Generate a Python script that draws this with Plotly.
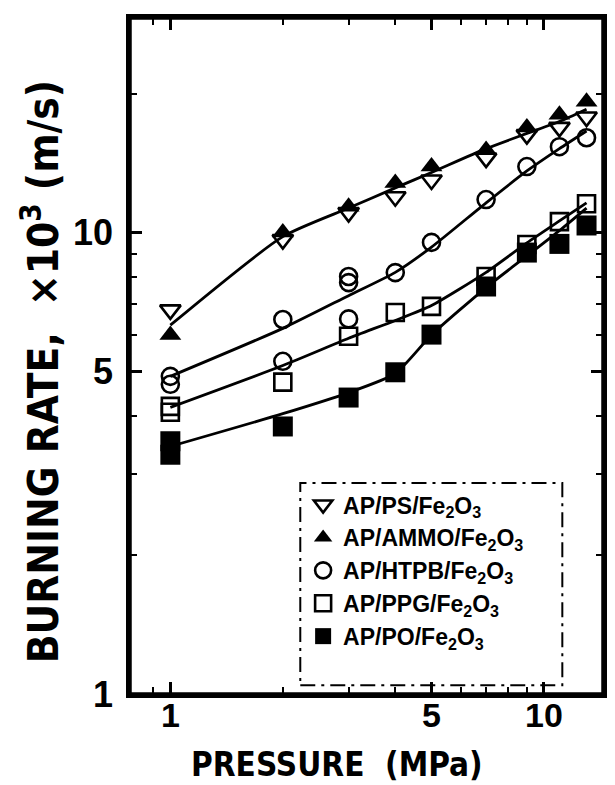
import plotly.graph_objects as go

# ---------------- data ----------------
ps_p = [1, 2, 3, 4, 5, 7, 9, 11, 13]
ps_r = [6.8, 9.66, 11.05, 11.96, 13.0, 14.5, 16.3, 16.9, 17.8]

ammo_p = [1, 2, 3, 4, 5, 7, 9, 11, 13]
ammo_r = [6.0, 10.0, 11.38, 12.8, 13.9, 15.1, 16.9, 18.0, 19.2]

htpb_p = [1, 1, 2, 2, 3, 3, 3, 4, 5, 7, 9, 11, 13]
htpb_r = [4.88, 4.69, 6.48, 5.26, 8.03, 7.79, 6.5, 8.19, 9.52, 11.79, 13.9, 15.35, 16.05]

ppg_p = [1, 1, 2, 3, 4, 5, 7, 9, 11, 13]
ppg_r = [4.2, 4.08, 4.74, 5.96, 6.71, 6.92, 8.03, 9.42, 10.56, 11.55]

po_p = [1, 1, 2, 3, 4, 5, 7, 9, 11, 13]
po_r = [3.53, 3.30, 3.80, 4.39, 4.98, 6.01, 7.64, 9.05, 9.45, 10.36]

# fitted curves drawn through the data
fit_p = [1, 2, 3, 4, 5, 7, 9, 11, 13]
fit_ps_ammo_r = [6.3, 9.8, 11.3, 12.5, 13.5, 15.2, 16.4, 17.4, 18.5]
fit_htpb_r = [4.88, 6.2, 7.3, 8.2, 9.3, 11.6, 13.6, 15.2, 16.6]
fit_ppg_r = [4.18, 5.15, 5.9, 6.45, 6.95, 8.2, 9.5, 10.6, 11.6]
fit_po_r = [3.44, 4.05, 4.5, 4.95, 6.0, 7.6, 8.9, 10.1, 11.3]

labels = [
    "AP/PS/Fe<sub>2</sub>O<sub>3</sub>",
    "AP/AMMO/Fe<sub>2</sub>O<sub>3</sub>",
    "AP/HTPB/Fe<sub>2</sub>O<sub>3</sub>",
    "AP/PPG/Fe<sub>2</sub>O<sub>3</sub>",
    "AP/PO/Fe<sub>2</sub>O<sub>3</sub>",
]

x_ticks = [1, 5, 10]
x_minor = [0.9, 2, 3, 4, 6, 7, 8, 9]
y_ticks = [1, 5, 10]
y_minor = [2, 3, 4, 6, 7, 8, 9, 20]

FONT = "Liberation Sans, Arial, sans-serif"
NARROW = "Liberation Sans Narrow, DejaVu Sans Condensed, Arial Narrow, sans-serif"

fig = go.Figure()

line_style = dict(color="black", width=2.8, shape="spline", smoothing=0.6)
for fr in [fit_ps_ammo_r, fit_htpb_r, fit_ppg_r, fit_po_r]:
    fig.add_trace(go.Scatter(x=fit_p, y=fr, mode="lines", line=line_style,
                             showlegend=False, hoverinfo="skip"))

open_line = dict(color="black", width=2.6)
fig.add_trace(go.Scatter(x=ps_p, y=ps_r, mode="markers", name=labels[0],
                         marker=dict(symbol="triangle-down-open", size=18,
                                     color="black", line=open_line)))
fig.add_trace(go.Scatter(x=ammo_p, y=ammo_r, mode="markers", name=labels[1],
                         marker=dict(symbol="triangle-up", size=19,
                                     color="black", line=dict(width=0))))
fig.add_trace(go.Scatter(x=htpb_p, y=htpb_r, mode="markers", name=labels[2],
                         marker=dict(symbol="circle-open", size=17,
                                     color="black", line=open_line)))
fig.add_trace(go.Scatter(x=ppg_p, y=ppg_r, mode="markers", name=labels[3],
                         marker=dict(symbol="square-open", size=17,
                                     color="black", line=open_line)))
fig.add_trace(go.Scatter(x=po_p, y=po_r, mode="markers", name=labels[4],
                         marker=dict(symbol="square", size=20,
                                     color="black", line=dict(width=0))))

axis_common = dict(
    type="log", showgrid=False, zeroline=False,
    showline=True, linecolor="black", linewidth=3.5, mirror="allticks",
    ticks="inside", ticklen=12, tickwidth=2.5, tickcolor="black",
    tickmode="array",
)

fig.update_xaxes(
    **axis_common,
    range=[-0.108, 1.158],
    tickvals=x_ticks, ticktext=[str(v) for v in x_ticks],
    tickfont=dict(family=FONT, size=34, color="black", weight="bold"),
    ticklabelstandoff=-12,
    minor=dict(tickmode="array", tickvals=x_minor, ticks="inside",
               ticklen=7, tickwidth=2.2, tickcolor="black", showgrid=False),
)
fig.update_yaxes(
    **axis_common,
    range=[0, 1.465],
    tickvals=y_ticks, ticktext=[str(v) for v in y_ticks],
    tickfont=dict(family=FONT, size=36, color="black", weight="bold"),
    ticklabelstandoff=6,
    minor=dict(tickmode="array", tickvals=y_minor, ticks="inside",
               ticklen=7, tickwidth=2.2, tickcolor="black", showgrid=False),
)

fig.add_annotation(
    text="PRESSURE  (MPa)", xref="paper", yref="paper",
    x=0.437, y=-0.104, xanchor="center", yanchor="middle", showarrow=False,
    font=dict(family=NARROW, size=33, color="black", weight="bold"),
)
fig.add_annotation(
    text="BURNING RATE,  \u00d710<sup>3</sup> (m/s)", xref="paper", yref="paper",
    x=-0.188, y=0.476, xanchor="center", yanchor="middle", showarrow=False,
    textangle=-90,
    font=dict(family=NARROW, size=42, color="black", weight="bold"),
)

# plot frame (explicit) and legend box
fig.add_shape(type="rect", xref="paper", yref="paper",
              x0=0, x1=1, y0=0, y1=1,
              line=dict(color="black", width=3.5))
fig.add_shape(type="rect", xref="paper", yref="paper",
              x0=0.360, x1=0.914, y0=0.013, y1=0.312,
              line=dict(color="black", width=2, dash="longdashdot"))

fig.update_layout(
    width=615, height=785,
    margin=dict(l=130, r=8, t=18, b=91),
    paper_bgcolor="white", plot_bgcolor="white",
    legend=dict(x=0.366, y=0.312, xanchor="left", yanchor="top",
                bgcolor="rgba(0,0,0,0)", borderwidth=0,
                font=dict(family=FONT, size=23, color="black", weight="bold"),
                itemsizing="trace", tracegroupgap=0),
)

fig.write_html(
    "out.html",
    config={"displayModeBar": False},
    post_script=("document.body.style.margin='0';"
                 "document.body.style.overflow='hidden';"
                 "document.documentElement.style.overflow='hidden';"),
)
